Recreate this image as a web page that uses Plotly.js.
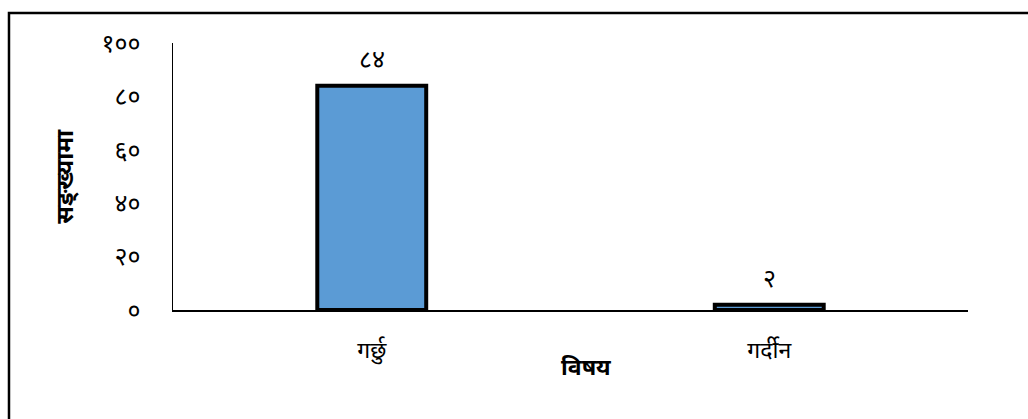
<!DOCTYPE html>
<html>
<head>
<meta charset="utf-8">
<script src="https://cdn.plot.ly/plotly-3.0.1.min.js"></script>
<style>
  html, body { margin: 0; padding: 0; background: #fff; }
  #chart { width: 1028px; height: 419px; }
</style>
</head>
<body>
<div id="chart"></div>
<script>
const categories = ['गर्छु', 'गर्दीन'];
const values = [84, 2];
const valueLabels = ['८४', '२'];
const tickValues = [0, 20, 40, 60, 80, 100];
const tickLabels = ['०', '२०', '४०', '६०', '८०', '१००'];
const xTitle = 'विषय';
const yTitle = 'सङ्ख्यामा';

const fontFam = '"Noto Sans", "Noto Sans Devanagari", "DejaVu Sans", sans-serif';

const trace = {
  type: 'bar',
  x: categories,
  y: values,
  marker: { color: '#5B9BD5', line: { color: '#000000', width: 4 } },
  hoverinfo: 'none'
};

const annotations = categories.map((c, i) => ({
  x: c, y: values[i], xref: 'x', yref: 'y',
  text: valueLabels[i], showarrow: false,
  yshift: 28, font: { family: fontFam, size: 25, color: '#000' }
}));

annotations.push({
  x: 0.5195, y: -0.21, xref: 'paper', yref: 'paper',
  xanchor: 'center', yanchor: 'middle',
  text: '<b>' + xTitle + '</b>', showarrow: false,
  font: { family: fontFam, size: 23, color: '#000' }
});
annotations.push({
  x: -0.138, y: 0.5, xref: 'paper', yref: 'paper',
  xanchor: 'center', yanchor: 'middle',
  text: '<b>' + yTitle + '</b>', showarrow: false, textangle: -90,
  font: { family: fontFam, size: 24, color: '#000' }
});

const layout = {
  width: 1028, height: 419,
  margin: { l: 173, r: 60, t: 43, b: 109 },
  paper_bgcolor: '#fff', plot_bgcolor: '#fff',
  showlegend: false,
  bargap: 0.726,
  xaxis: {
    type: 'category',
    showline: true, linecolor: '#000', linewidth: 2,
    showgrid: false, zeroline: false, ticks: '',
    ticklabelstandoff: 18,
    tickfont: { family: fontFam, size: 23, color: '#000' },
    fixedrange: true
  },
  yaxis: {
    range: [0, 100],
    tickvals: tickValues, ticktext: tickLabels,
    showline: true, linecolor: '#000', linewidth: 1.5,
    showgrid: false, zeroline: false, ticks: '',
    ticklabelstandoff: 26,
    tickfont: { family: fontFam, size: 25, color: '#000' },
    fixedrange: true
  },
  annotations: annotations,
  shapes: [{
    type: 'rect', xref: 'paper', yref: 'paper',
    x0: -0.2063, x1: 1.1, y0: -0.5, y1: 1.1124,
    line: { color: '#000', width: 2.5 }, fillcolor: 'rgba(0,0,0,0)',
    layer: 'above'
  }]
};

Plotly.newPlot('chart', [trace], layout, { displayModeBar: false, staticPlot: true });
</script>
</body>
</html>
